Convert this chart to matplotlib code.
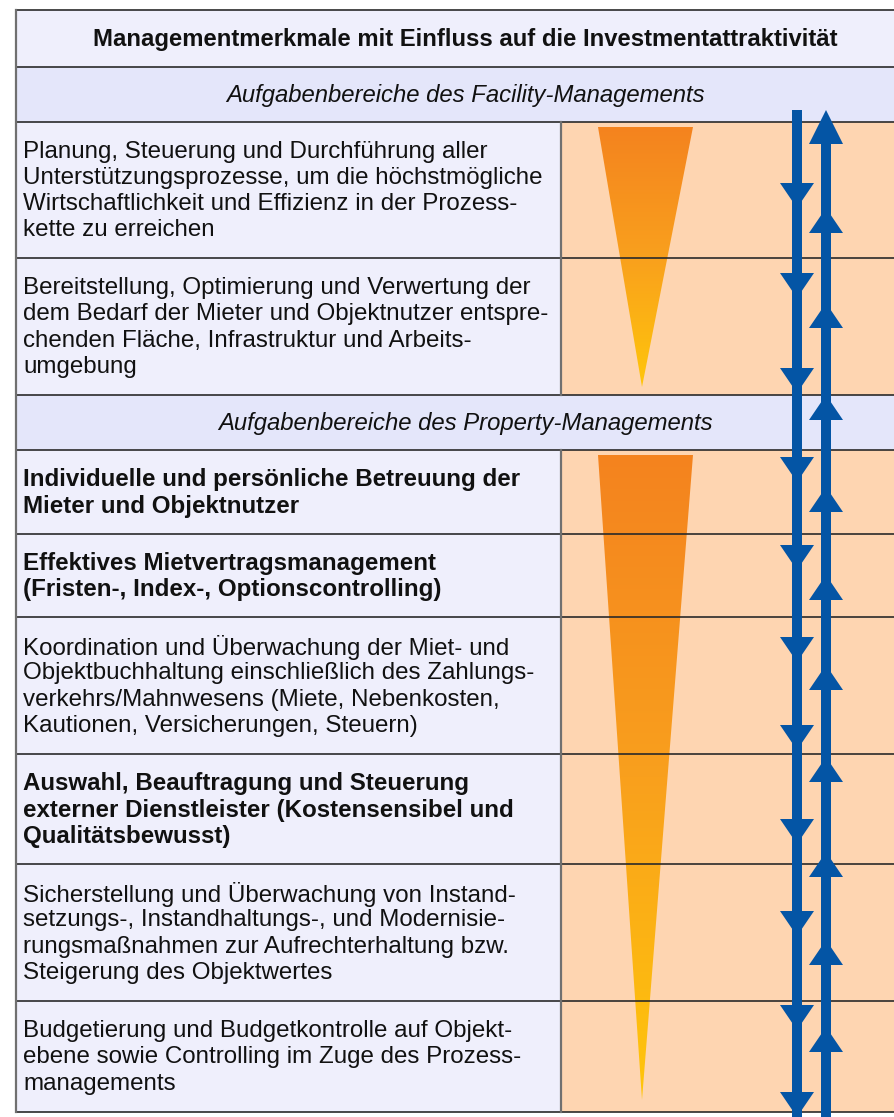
import matplotlib
matplotlib.use("Agg")
import matplotlib.pyplot as plt
import numpy as np
from matplotlib.patches import Rectangle, Polygon
from matplotlib.colors import LinearSegmentedColormap

plt.rcParams['font.family'] = ['Liberation Sans', 'DejaVu Sans']

# ---------------- data ----------------
title = "Managementmerkmale mit Einfluss auf die Investmentattraktivität"
section_titles = ["Aufgabenbereiche des Facility-Managements",
                  "Aufgabenbereiche des Property-Managements"]
facility_rows = [
    ["Planung, Steuerung und Durchführung aller",
     "Unterstützungsprozesse, um die höchstmögliche",
     "Wirtschaftlichkeit und Effizienz in der Prozess-",
     "kette zu erreichen"],
    ["Bereitstellung, Optimierung und Verwertung der",
     "dem Bedarf der Mieter und Objektnutzer entspre-",
     "chenden Fläche, Infrastruktur und Arbeits-",
     "umgebung"],
]
facility_bold = [False, False]
property_rows = [
    ["Individuelle und persönliche Betreuung der",
     "Mieter und Objektnutzer"],
    ["Effektives Mietvertragsmanagement",
     "(Fristen-, Index-, Optionscontrolling)"],
    ["Koordination und Überwachung der Miet- und",
     "Objektbuchhaltung einschließlich des Zahlungs-",
     "verkehrs/Mahnwesens (Miete, Nebenkosten,",
     "Kautionen, Versicherungen, Steuern)"],
    ["Auswahl, Beauftragung und Steuerung",
     "externer Dienstleister (Kostensensibel und",
     "Qualitätsbewusst)"],
    ["Sicherstellung und Überwachung von Instand-",
     "setzungs-, Instandhaltungs-, und Modernisie-",
     "rungsmaßnahmen zur Aufrechterhaltung bzw.",
     "Steigerung des Objektwertes"],
    ["Budgetierung und Budgetkontrolle auf Objekt-",
     "ebene sowie Controlling im Zuge des Prozess-",
     "managements"],
]
property_bold = [True, True, False, True, False, False]

# ---------------- layout ----------------
W, H = 894, 1117
X0, XMID, X1 = 16, 561, 912
row_edges = [10, 67, 122, 258, 395, 450, 534, 617, 754, 864, 1001, 1112]
LINE_H = 26.2
TEXT_X = 23
CENTER_X = 465
FS_BODY = 17.4
FS_HEAD = 17.2

C_LEFT = "#EFEFFC"
C_SUB = "#E4E6FA"
C_PEACH = "#FED5B1"
C_BLUE = "#0455A5"
C_LINE = "#2a2a2a"

fig = plt.figure(figsize=(W / 100, H / 100), dpi=100)
ax = fig.add_axes([0, 0, 1, 1])
ax.set_xlim(0, W)
ax.set_ylim(H, 0)
ax.axis("off")
fig.patch.set_facecolor("white")

# header
ax.add_patch(Rectangle((X0, row_edges[0]), X1 - X0, row_edges[1] - row_edges[0],
                       facecolor=C_LEFT, edgecolor="none", zorder=1))
ax.text(CENTER_X, (row_edges[0] + row_edges[1]) / 2 + 1, title, ha="center", va="center",
        fontsize=FS_HEAD, fontweight="bold", color="#111111", zorder=5)

# section headers
sec_idx = [1, 4]
for si, idx in enumerate(sec_idx):
    y0, y1 = row_edges[idx], row_edges[idx + 1]
    ax.add_patch(Rectangle((X0, y0), X1 - X0, y1 - y0, facecolor=C_SUB,
                           edgecolor="none", zorder=1))
    ax.text(CENTER_X, (y0 + y1) / 2 + 1, section_titles[si], ha="center", va="center",
            fontsize=FS_HEAD, style="italic", color="#111111", zorder=5)

# content rows
content = [(2, facility_rows, facility_bold), (5, property_rows, property_bold)]
for start, rows, bolds in content:
    for k, (lines, b) in enumerate(zip(rows, bolds)):
        y0, y1 = row_edges[start + k], row_edges[start + k + 1]
        ax.add_patch(Rectangle((X0, y0), XMID - X0, y1 - y0, facecolor=C_LEFT,
                               edgecolor="none", zorder=1))
        ax.add_patch(Rectangle((XMID, y0), X1 - XMID, y1 - y0, facecolor=C_PEACH,
                               edgecolor="none", zorder=1))
        yc = (y0 + y1) / 2 + 1
        n = len(lines)
        for i, ln in enumerate(lines):
            ax.text(TEXT_X, yc + (i - (n - 1) / 2) * LINE_H, ln, ha="left", va="center",
                    fontsize=FS_BODY, fontweight="bold" if b else "normal",
                    color="#111111", zorder=5)

# grid lines
for y in row_edges:
    ax.plot([X0, X1], [y, y], color=C_LINE, lw=1.2, zorder=3, solid_capstyle="butt")
ax.plot([X0, X0], [row_edges[0], row_edges[-1]], color="#707070", lw=1.6, zorder=3)
for a, b in [(2, 4), (5, 11)]:
    ax.plot([XMID, XMID], [row_edges[a], row_edges[b]], color="#707070", lw=1.6, zorder=3)

# gradient triangles
cmap = LinearSegmentedColormap.from_list("tri", ["#F4831F", "#F9A01D", "#FFC60B"])
triangles = [((598, 693, 127), (642, 387)), ((598, 693, 455), (642, 1100))]
for (xl, xr, yt), (xa, ya) in triangles:
    grad = np.linspace(0, 1, 256).reshape(-1, 1)
    im = ax.imshow(grad, cmap=cmap, extent=[xl, xr, ya, yt], aspect="auto",
                   zorder=2, interpolation="bilinear")
    poly = Polygon([(xl, yt), (xr, yt), (xa, ya)], closed=True, facecolor="none",
                   edgecolor="none", transform=ax.transData)
    ax.add_patch(poly)
    im.set_clip_path(poly)
ax.set_xlim(0, W)
ax.set_ylim(H, 0)

# arrows
DOWN_X, UP_X = 797, 826
LINE_W = 7.2  # points (~10 px)
HEAD_W, HEAD_H = 34, 25
down_tips = [208, 298, 393, 482, 570, 662, 750, 844, 936, 1030, 1117]
up_tips = [110, 208, 303, 395, 487, 575, 665, 757, 852, 940, 1027]
up_head_h = [34] + [HEAD_H] * (len(up_tips) - 1)

ax.plot([DOWN_X, DOWN_X], [110, H + 5], color=C_BLUE, lw=LINE_W, solid_capstyle="butt", zorder=6)
ax.plot([UP_X, UP_X], [up_tips[0] + up_head_h[0], H + 5], color=C_BLUE, lw=LINE_W,
        solid_capstyle="butt", zorder=6)
for t in down_tips:
    ax.add_patch(Polygon([(DOWN_X - HEAD_W / 2, t - HEAD_H), (DOWN_X + HEAD_W / 2, t - HEAD_H),
                          (DOWN_X, t)], closed=True, facecolor=C_BLUE, edgecolor="none", zorder=7))
for t, hh in zip(up_tips, up_head_h):
    ax.add_patch(Polygon([(UP_X - HEAD_W / 2, t + hh), (UP_X + HEAD_W / 2, t + hh),
                          (UP_X, t)], closed=True, facecolor=C_BLUE, edgecolor="none", zorder=7))

fig.savefig("out.png", dpi=100, facecolor="white")
